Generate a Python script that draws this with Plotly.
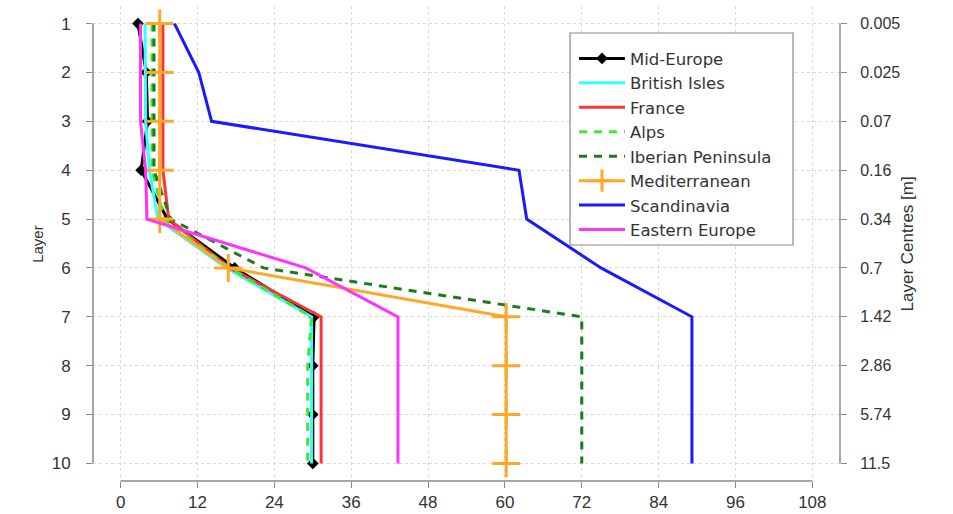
import plotly.graph_objects as go

layers = [1, 2, 3, 4, 5, 6, 7, 8, 9, 10]
depth_labels = ["0.005", "0.025", "0.07", "0.16", "0.34", "0.7", "1.42", "2.86", "5.74", "11.5"]
x_ticks = [0, 12, 24, 36, 48, 60, 72, 84, 96, 108]

mid_europe = [2.7, 4.0, 4.2, 3.2, 7.3, 17.8, 30.2, 30.0, 30.0, 30.0]
british_isles = [3.8, 3.8, 3.9, 4.5, 5.8, 16.5, 29.8, 29.8, 29.8, 29.8]
france = [6.6, 6.6, 6.6, 6.6, 7.5, 17.0, 31.3, 31.3, 31.3, 31.3]
alps = [4.9, 4.9, 4.9, 4.9, 6.8, 17.0, 29.8, 29.2, 29.2, 29.2]
iberian = [5.2, 5.2, 5.2, 5.2, 7.8, 22.3, 72.0, 72.0, 72.0, 72.0]
mediterranean = [6.1, 6.1, 6.1, 6.1, 6.1, 16.8, 60.2, 60.2, 60.2, 60.2]
scandinavia = [8.4, 12.2, 14.2, 62.2, 63.4, 75.0, 89.2, 89.2, 89.2, 89.2]
eastern_europe = [3.1, 3.1, 3.1, 3.9, 4.1, 28.9, 43.3, 43.3, 43.3, 43.3]

FONT = "Liberation Sans, Arial, sans-serif"
LFONT = "DejaVu Sans, Liberation Sans, sans-serif"
TXT = "#333333"
AX = "#888888"

fig = go.Figure()

def add(name, xs, color, dash="solid", mode="lines", marker=None, lw=3):
    kw = dict(x=xs, y=layers, name=name, mode=mode, legendgroup=name,
              line=dict(color=color, width=lw, dash=dash))
    if marker:
        kw["marker"] = marker
    fig.add_trace(go.Scatter(**kw))

add("Mid-Europe", mid_europe, "#000000", mode="lines+markers",
    marker=dict(symbol="diamond", size=9, color="#000000"))
add("British Isles", british_isles, "#33FFFF")
add("France", france, "#FF3333")
add("Alps", alps, "#33EE33", dash="8px,7px")
add("Iberian Peninsula", iberian, "#1E7A1E", dash="8px,7px")
add("Mediterranean", mediterranean, "#FFA726", mode="lines+markers",
    marker=dict(symbol="cross-thin-open", size=20, color="#FFA726",
                line=dict(color="#FFA726", width=3)))
add("Scandinavia", scandinavia, "#1A1AFF")
add("Eastern Europe", eastern_europe, "#FF33FF")

# dummy trace to activate the right axis
fig.add_trace(go.Scatter(x=[None], y=[None], yaxis="y2", showlegend=False,
                         hoverinfo="skip"))

xr = [-4.32, 112.32]
yr = [10.36, 0.64]

fig.update_layout(
    width=953, height=514,
    margin=dict(l=93, r=113, t=6, b=33, autoexpand=False),
    paper_bgcolor="white", plot_bgcolor="white",
    font=dict(family=FONT, color=TXT, size=16),
    xaxis=dict(range=xr, tickvals=x_ticks, ticktext=[str(v) for v in x_ticks],
               showgrid=True, gridcolor="#d9d9d9", griddash="dot", gridwidth=1,
               zeroline=False, showline=False, ticks="outside", ticklen=6,
               tickcolor=AX, tickfont=dict(size=17, color=TXT),
               automargin=False, ticklabelstandoff=0),
    yaxis=dict(range=yr, tickvals=layers, ticktext=[str(v) for v in layers],
               showgrid=True, gridcolor="#d9d9d9", griddash="dot", gridwidth=1,
               zeroline=False, showline=False, ticks="outside", ticklen=6,
               tickcolor=AX, tickfont=dict(size=17, color=TXT),
               automargin=False, ticklabelstandoff=12),
    yaxis2=dict(range=yr, overlaying="y", side="right", tickvals=layers,
                ticktext=depth_labels, showgrid=False, zeroline=False,
                showline=False, ticks="outside", ticklen=6, tickcolor=AX,
                tickfont=dict(size=16, color=TXT), automargin=False,
                ticklabelstandoff=10),
    legend=dict(x=0.6439, y=0.926, xanchor="left", yanchor="top",
                bgcolor="rgba(0,0,0,0)", borderwidth=0,
                font=dict(size=16.5, color=TXT, family=LFONT),
                tracegroupgap=0, itemwidth=46, itemsizing="trace"),
    showlegend=True,
)

# legend frame (white box covering the lines beneath it)
fig.add_shape(type="rect", xref="paper", yref="paper", layer="above",
              x0=0.6386, x1=0.9371, y0=0.4968, y1=0.9432,
              fillcolor="white", line=dict(color=AX, width=1.2))

# range-frame axis lines (from first to last tick)
fig.add_shape(type="line", xref="paper", yref="y", x0=0, x1=0, y0=1, y1=10,
              line=dict(color=AX, width=1.5))
fig.add_shape(type="line", xref="paper", yref="y", x0=1, x1=1, y0=1, y1=10,
              line=dict(color=AX, width=1.5))
fig.add_shape(type="line", xref="x", yref="paper", x0=0, x1=108, y0=0, y1=0,
              line=dict(color=AX, width=1.5))

fig.add_annotation(text="Layer", xref="paper", yref="paper", x=-0.0745, y=0.5,
                   textangle=-90, showarrow=False, xanchor="center",
                   yanchor="middle", font=dict(size=15, color=TXT))
fig.add_annotation(text="Layer Centres [m]", xref="paper", yref="paper",
                   x=1.0909, y=0.5, textangle=-90, showarrow=False,
                   xanchor="center", yanchor="middle",
                   font=dict(size=17, color=TXT))

fig.write_html("out.html", config={"displayModeBar": False},
               post_script="document.body.style.margin='0';")
